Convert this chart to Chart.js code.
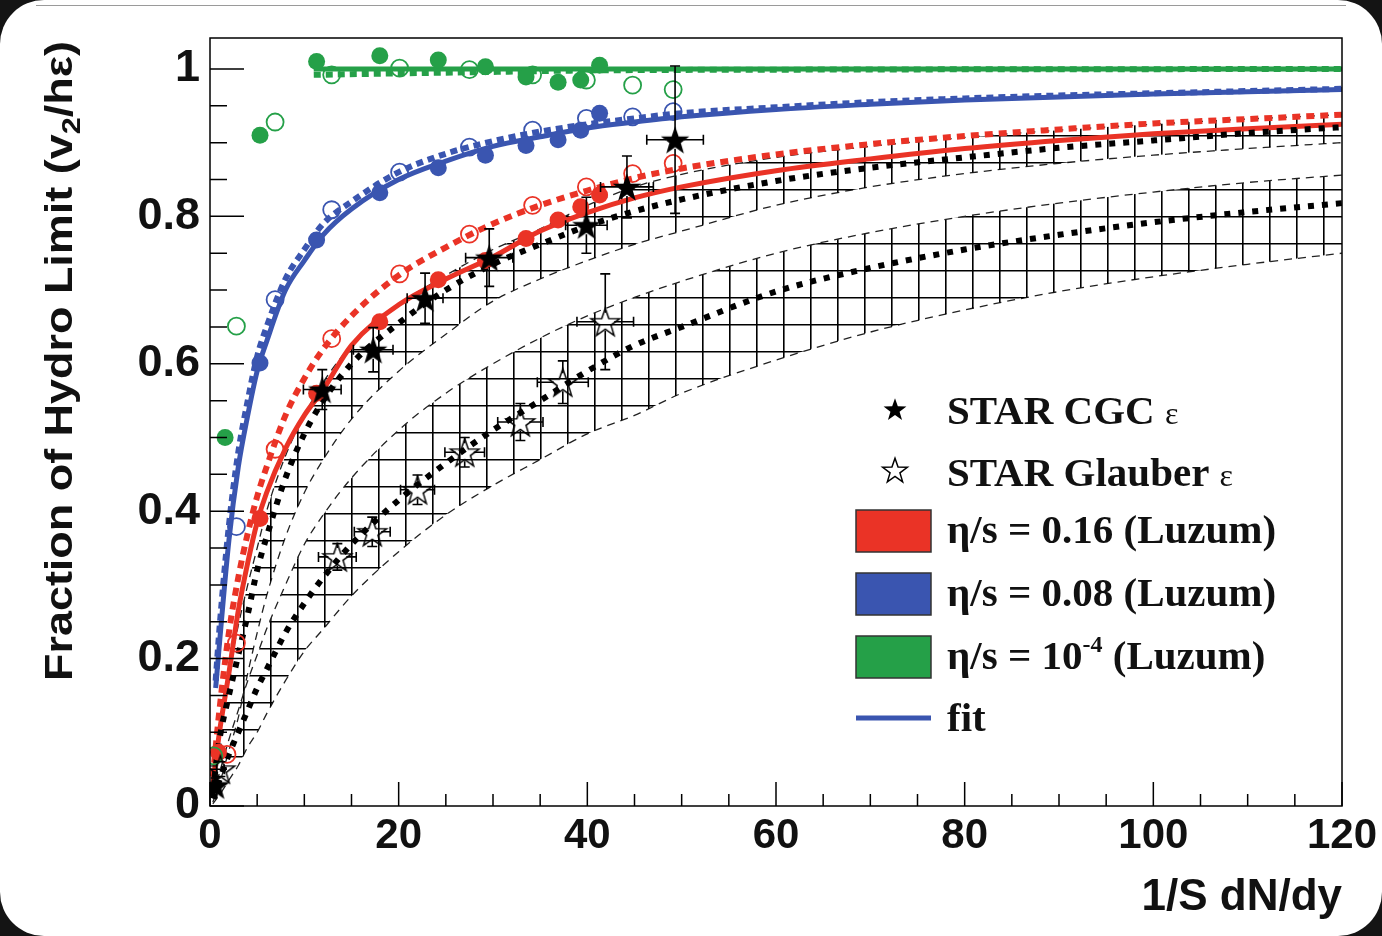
<!DOCTYPE html>
<html>
<head>
<meta charset="utf-8">
<script src="https://cdn.jsdelivr.net/npm/chart.js@4/dist/chart.umd.min.js"></script>
<style>
  html, body { margin: 0; padding: 0; background: #141414; }
  #card { position: absolute; left: 0; top: 0; width: 1382px; height: 936px; background: #fff; border-radius: 44px; overflow: hidden; }
  #rule { position: absolute; left: 36px; top: 5px; width: 1310px; height: 1px; background: #9a9a9a; }
  canvas { position: absolute; left: 0; top: 0; }
</style>
</head>
<body>
<div id="card"><div id="rule"></div><canvas id="chart" width="1382" height="936"></canvas></div>
<script>
// ---- data ----
const GREEN = '#25a048';
const BLUE = '#3a55b0';
const RED = '#ea3326';

// Luzum points (filled / open circles)
const GREEN_FILLED_X = [1.6, 5.3, 11.3, 18.0, 24.2, 29.2, 33.5, 36.9, 39.3, 41.3];
const GREEN_FILLED_Y = [0.50, 0.91, 1.01, 1.018, 1.012, 1.003, 0.989, 0.982, 0.985, 1.005];
const GREEN_OPEN_X = [0.4, 2.8, 6.9, 12.9, 20.1, 27.5, 34.2, 39.9, 44.8, 49.1];
const GREEN_OPEN_Y = [0.068, 0.651, 0.928, 0.992, 1.001, 0.999, 0.992, 0.985, 0.978, 0.972];

const BLUE_FILLED_X = [5.3, 11.3, 18.0, 24.2, 29.2, 33.5, 36.9, 39.3, 41.3];
const BLUE_FILLED_Y = [0.601, 0.768, 0.832, 0.866, 0.883, 0.896, 0.904, 0.917, 0.94];
const BLUE_OPEN_X = [2.8, 6.9, 12.9, 20.1, 27.5, 34.2, 39.9, 44.8, 49.1];
const BLUE_OPEN_Y = [0.379, 0.687, 0.809, 0.86, 0.894, 0.917, 0.933, 0.935, 0.942];

const RED_FILLED_X = [0.9, 5.3, 11.3, 18.0, 24.2, 29.2, 33.5, 36.9, 39.3, 41.3];
const RED_FILLED_Y = [0.073, 0.39, 0.56, 0.657, 0.714, 0.74, 0.77, 0.795, 0.813, 0.829];
const RED_OPEN_X = [1.8, 2.8, 6.9, 12.9, 20.1, 27.5, 34.2, 39.9, 44.8, 49.1];
const RED_OPEN_Y = [0.07, 0.221, 0.484, 0.634, 0.722, 0.776, 0.815, 0.84, 0.858, 0.872];

// STAR data with errors
const CGC_X = [0.6, 11.9, 17.3, 22.8, 29.6, 39.9, 44.2, 49.3];
const CGC_Y = [0.028, 0.565, 0.619, 0.689, 0.744, 0.788, 0.84, 0.904];
const CGC_XERR = [0.3, 2.0, 2.1, 1.9, 2.5, 2.2, 2.8, 3.0];
const CGC_YERR = [0.01, 0.027, 0.03, 0.034, 0.039, 0.038, 0.042, 0.1];
const GLB_X = [1.1, 13.5, 17.2, 22.0, 27.0, 32.9, 37.4, 41.9];
const GLB_Y = [0.05, 0.338, 0.372, 0.429, 0.48, 0.521, 0.575, 0.657];
const GLB_XERR = [0.4, 2.0, 1.9, 1.8, 2.1, 2.4, 2.7, 3.0];
const GLB_YERR = [0.01, 0.018, 0.02, 0.02, 0.02, 0.025, 0.029, 0.065];

// curves
const FIT_X = [0.3, 1, 2, 3, 4, 5, 6, 8, 10, 12, 15, 20, 25, 30, 35, 40, 45, 50, 60, 70, 80, 90, 100, 110, 120];
const BLUE_X = [0.6, 1, 2, 3, 4, 5, 6, 8, 10, 12, 15, 20, 25, 30, 35, 40, 45, 50, 60, 70, 80, 90, 100, 110, 120];
const BLUE_SOLID = [0.16, 0.22, 0.36, 0.46, 0.53, 0.59, 0.63, 0.70, 0.74, 0.775, 0.81, 0.85, 0.875, 0.895, 0.908, 0.92, 0.928, 0.935, 0.945, 0.952, 0.958, 0.962, 0.966, 0.969, 0.972];
const BLUE_DOTTED = [0.17, 0.24, 0.38, 0.48, 0.55, 0.61, 0.65, 0.715, 0.755, 0.79, 0.82, 0.86, 0.885, 0.902, 0.915, 0.925, 0.933, 0.94, 0.948, 0.955, 0.96, 0.964, 0.967, 0.97, 0.973];
const RED_SOLID = [0.03, 0.1, 0.18, 0.265, 0.33, 0.385, 0.425, 0.485, 0.53, 0.565, 0.625, 0.68, 0.715, 0.745, 0.78, 0.805, 0.825, 0.84, 0.862, 0.878, 0.892, 0.903, 0.912, 0.919, 0.925];
const RED_DOTTED = [0.04, 0.13, 0.235, 0.31, 0.37, 0.42, 0.46, 0.53, 0.58, 0.62, 0.665, 0.72, 0.758, 0.79, 0.815, 0.835, 0.852, 0.865, 0.884, 0.898, 0.909, 0.918, 0.926, 0.932, 0.938];
const GREEN_X = [11, 20, 30, 40, 60, 120];
const GREEN_SOLID = [1.0, 1.0, 1.0, 1.0, 1.0, 1.0];
const GREEN_DOTTED = [0.992, 0.994, 0.996, 0.998, 0.999, 1.0];

const CGC_FIT = [0.02, 0.09, 0.15, 0.205, 0.26, 0.32, 0.365, 0.445, 0.505, 0.55, 0.60, 0.655, 0.70, 0.735, 0.762, 0.787, 0.807, 0.823, 0.848, 0.866, 0.88, 0.893, 0.903, 0.913, 0.921];
const CGC_HIGH = [0.03, 0.1, 0.18, 0.245, 0.3, 0.35, 0.4, 0.475, 0.53, 0.575, 0.625, 0.68, 0.72, 0.755, 0.783, 0.815, 0.84, 0.857, 0.88, 0.895, 0.907, 0.917, 0.925, 0.932, 0.938];
const CGC_LOW = [0.005, 0.03, 0.075, 0.12, 0.18, 0.235, 0.285, 0.365, 0.425, 0.47, 0.525, 0.59, 0.64, 0.685, 0.715, 0.74, 0.762, 0.78, 0.815, 0.84, 0.858, 0.872, 0.883, 0.892, 0.90];
const GLB_FIT = [0.01, 0.035, 0.07, 0.1, 0.13, 0.16, 0.185, 0.235, 0.275, 0.31, 0.355, 0.415, 0.465, 0.51, 0.55, 0.59, 0.625, 0.65, 0.698, 0.73, 0.755, 0.775, 0.792, 0.806, 0.818];
const GLB_HIGH = [0.015, 0.045, 0.09, 0.13, 0.17, 0.205, 0.24, 0.30, 0.355, 0.395, 0.445, 0.51, 0.56, 0.6, 0.635, 0.665, 0.69, 0.712, 0.75, 0.778, 0.80, 0.818, 0.833, 0.846, 0.856];
const GLB_LOW = [0.003, 0.015, 0.035, 0.055, 0.08, 0.1, 0.125, 0.17, 0.21, 0.24, 0.285, 0.345, 0.395, 0.435, 0.47, 0.505, 0.53, 0.56, 0.605, 0.643, 0.673, 0.698, 0.718, 0.735, 0.75];

const X_TICKS_MAJOR = 20, X_TICKS_MINOR = 5;
const Y_TICKS_MAJOR = 0.2, Y_TICKS_MINOR = 0.05;

// ---- helpers ----
const pts = (xs, ys) => xs.map((x, i) => ({ x: x, y: ys[i] }));

function curve(xs, ys, color, width, dash, extra) {
  return Object.assign({
    data: pts(xs, ys), showLine: true, borderColor: color, borderWidth: width,
    borderDash: dash || [], pointRadius: 0, fill: false,
    cubicInterpolationMode: 'monotone', borderCapStyle: 'butt'
  }, extra || {});
}

function dots(xs, ys, color, filled) {
  return {
    data: pts(xs, ys), showLine: false, pointStyle: 'circle',
    pointRadius: 8.5,
    pointBackgroundColor: filled ? color : 'rgba(0,0,0,0)',
    pointBorderColor: color, pointBorderWidth: filled ? 0 : 1.8
  };
}

function starPath(g, cx, cy, R) {
  const r = R * 0.4;
  g.beginPath();
  for (let i = 0; i < 10; i++) {
    const a = -Math.PI / 2 + i * Math.PI / 5;
    const rr = i % 2 ? r : R;
    g.lineTo(cx + rr * Math.cos(a), cy + rr * Math.sin(a));
  }
  g.closePath();
}

function drawStar(g, cx, cy, R, filled) {
  starPath(g, cx, cy + R * 0.1, R);
  if (filled) { g.fillStyle = '#000'; g.fill(); }
  else { g.strokeStyle = '#000'; g.lineWidth = 1.5; g.stroke(); }
}

function starCanvas(R, filled) {
  const c = document.createElement('canvas');
  c.width = c.height = Math.ceil(2 * R + 6);
  drawStar(c.getContext('2d'), c.width / 2, c.height / 2, R, filled);
  return c;
}

function hatch(ctx) {
  const p = document.createElement('canvas');
  p.width = 27; p.height = 27;
  const g = p.getContext('2d');
  g.strokeStyle = '#000'; g.lineWidth = 1.6;
  g.beginPath();
  g.moveTo(0.8, 0); g.lineTo(0.8, 27);
  g.moveTo(0, 0.8); g.lineTo(27, 0.8);
  g.stroke();
  return ctx.createPattern(p, 'repeat');
}

const canvas = document.getElementById('chart');
const ctx = canvas.getContext('2d');
const HATCH = hatch(ctx);

// ---- plugins: error bars, frame with inner ticks, y title, legend ----
const errorBars = {
  id: 'errorBars',
  afterDatasetsDraw(chart) {
    const { ctx, scales: { x, y } } = chart;
    ctx.save();
    ctx.strokeStyle = '#000'; ctx.lineWidth = 1.6;
    [[CGC_X, CGC_Y, CGC_XERR, CGC_YERR], [GLB_X, GLB_Y, GLB_XERR, GLB_YERR]].forEach(([xs, ys, ex, ey]) => {
      xs.forEach((xv, i) => {
        const px = x.getPixelForValue(xv), py = y.getPixelForValue(ys[i]);
        const x0 = x.getPixelForValue(xv - ex[i]), x1 = x.getPixelForValue(xv + ex[i]);
        const y0 = y.getPixelForValue(ys[i] - ey[i]), y1 = y.getPixelForValue(ys[i] + ey[i]);
        const gap = 9;
        ctx.beginPath();
        if (px - x0 > gap) { ctx.moveTo(x0, py); ctx.lineTo(px - gap, py); ctx.moveTo(px + gap, py); ctx.lineTo(x1, py); }
        if (y0 - py > gap) { ctx.moveTo(px, y0); ctx.lineTo(px, py + gap); ctx.moveTo(px, py - gap); ctx.lineTo(px, y1); }
        ctx.moveTo(x0, py - 5); ctx.lineTo(x0, py + 5);
        ctx.moveTo(x1, py - 5); ctx.lineTo(x1, py + 5);
        ctx.moveTo(px - 5, y0); ctx.lineTo(px + 5, y0);
        ctx.moveTo(px - 5, y1); ctx.lineTo(px + 5, y1);
        ctx.stroke();
      });
    });
    ctx.restore();
  }
};

const frameTicks = {
  id: 'frameTicks',
  afterDraw(chart) {
    const { ctx, chartArea: a, scales: { x, y } } = chart;
    ctx.save();
    ctx.strokeStyle = '#000'; ctx.lineWidth = 1.5;
    ctx.strokeRect(a.left, a.top, a.right - a.left, a.bottom - a.top);
    ctx.beginPath();
    for (let v = 0; v <= x.max + 1e-9; v += X_TICKS_MINOR) {
      const px = x.getPixelForValue(v);
      const len = Math.abs(v / X_TICKS_MAJOR - Math.round(v / X_TICKS_MAJOR)) < 1e-6 ? 24 : 12;
      ctx.moveTo(px, a.bottom); ctx.lineTo(px, a.bottom - len);
    }
    for (let k = 0; k * Y_TICKS_MINOR <= y.max + 1e-9; k++) {
      const v = k * Y_TICKS_MINOR;
      const py = y.getPixelForValue(v);
      const len = k % Math.round(Y_TICKS_MAJOR / Y_TICKS_MINOR) === 0 ? 34 : 17;
      ctx.moveTo(a.left, py); ctx.lineTo(a.left + len, py);
    }
    ctx.stroke();
    ctx.restore();
  }
};

function runs(ctx, x, y, parts) {
  parts.forEach(p => {
    ctx.font = p.f;
    ctx.fillText(p.t, x, y + (p.dy || 0));
    x += ctx.measureText(p.t).width;
  });
}

const decorations = {
  id: 'decorations',
  afterDraw(chart) {
    const ctx = chart.ctx;
    // y axis title with subscript, stretched to the figure's length
    ctx.save();
    ctx.fillStyle = '#111';
    ctx.translate(62, 361);
    ctx.rotate(-Math.PI / 2);
    const big = 'bold 38px "Liberation Sans", Arial, sans-serif';
    const sub = 'bold 26px "Liberation Sans", Arial, sans-serif';
    const parts = [{ t: 'Fraction of Hydro Limit (v', f: big }, { t: '2', f: sub, dy: 11 }, { t: '/h\u03b5)', f: big }];
    let w = 0;
    parts.forEach(p => { ctx.font = p.f; w += ctx.measureText(p.t).width; });
    ctx.scale(640 / w, 1);
    ctx.textBaseline = 'middle';
    runs(ctx, -w / 2, 0, parts);
    ctx.restore();

    // legend
    ctx.save();
    const serifB = 'bold 41px "Liberation Serif", "Times New Roman", serif';
    const serifS = '32px "Liberation Serif", "Times New Roman", serif';
    const supF = 'bold 24px "Liberation Serif", "Times New Roman", serif';
    ctx.textBaseline = 'alphabetic';
    drawStar(ctx, 895, 409, 12, true);
    drawStar(ctx, 895, 470, 13, false);
    ctx.fillStyle = '#111';
    runs(ctx, 947, 424, [{ t: 'STAR CGC ', f: serifB }, { t: '\u03b5', f: serifS }]);
    runs(ctx, 947, 486, [{ t: 'STAR Glauber ', f: serifB }, { t: '\u03b5', f: serifS }]);
    const boxes = [[RED, 510], [BLUE, 573], [GREEN, 636]];
    boxes.forEach(([c, top]) => {
      ctx.fillStyle = c; ctx.fillRect(856, top, 75, 42);
      ctx.strokeStyle = '#333'; ctx.lineWidth = 1.5; ctx.strokeRect(856, top, 75, 42);
    });
    ctx.fillStyle = '#111';
    runs(ctx, 947, 543, [{ t: '\u03b7/s = 0.16 (Luzum)', f: serifB }]);
    runs(ctx, 947, 606, [{ t: '\u03b7/s = 0.08 (Luzum)', f: serifB }]);
    runs(ctx, 947, 669, [{ t: '\u03b7/s = 10', f: serifB }, { t: '-4', f: supF, dy: -17 }, { t: ' (Luzum)', f: serifB }]);
    ctx.strokeStyle = BLUE; ctx.lineWidth = 5;
    ctx.beginPath(); ctx.moveTo(856, 718); ctx.lineTo(931, 718); ctx.stroke();
    runs(ctx, 947, 731, [{ t: 'fit', f: serifB }]);
    ctx.restore();
  }
};

// ---- datasets (index 0 is drawn on top) ----
const datasets = [
  { data: pts(CGC_X, CGC_Y), showLine: false, pointStyle: starCanvas(15, true), pointRadius: 10 },
  { data: pts(GLB_X, GLB_Y), showLine: false, pointStyle: starCanvas(15, false), pointRadius: 10 },
  dots(GREEN_FILLED_X, GREEN_FILLED_Y, GREEN, true),
  dots(GREEN_OPEN_X, GREEN_OPEN_Y, GREEN, false),
  dots(BLUE_FILLED_X, BLUE_FILLED_Y, BLUE, true),
  dots(BLUE_OPEN_X, BLUE_OPEN_Y, BLUE, false),
  dots(RED_FILLED_X, RED_FILLED_Y, RED, true),
  dots(RED_OPEN_X, RED_OPEN_Y, RED, false),
  curve(FIT_X, CGC_FIT, '#000', 6, [6, 8]),
  curve(FIT_X, GLB_FIT, '#000', 6, [6, 8]),
  curve(GREEN_X, GREEN_DOTTED, GREEN, 6, [7, 5]),
  curve(GREEN_X, GREEN_SOLID, GREEN, 5),
  curve(BLUE_X, BLUE_DOTTED, BLUE, 6, [7, 5]),
  curve(BLUE_X, BLUE_SOLID, BLUE, 5),
  curve(FIT_X, RED_DOTTED, RED, 6, [8, 6]),
  curve(FIT_X, RED_SOLID, RED, 5),
  curve(FIT_X, CGC_HIGH, '#222', 1.3, [8, 6], { fill: 17, backgroundColor: HATCH }),
  curve(FIT_X, CGC_LOW, '#222', 1.3, [8, 6]),
  curve(FIT_X, GLB_HIGH, '#222', 1.3, [8, 6], { fill: 19, backgroundColor: HATCH }),
  curve(FIT_X, GLB_LOW, '#222', 1.3, [8, 6])
];

const tickFont = { family: '"Liberation Sans", Arial, sans-serif', weight: 'bold', size: 42 };

new Chart(canvas, {
  type: 'scatter',
  data: { datasets: datasets },
  options: {
    responsive: false,
    animation: false,
    layout: { padding: { left: 0, right: 40, top: 38, bottom: 0 } },
    plugins: { legend: { display: false }, tooltip: { enabled: false } },
    scales: {
      x: {
        type: 'linear', min: 0, max: 120,
        grid: { display: false }, border: { display: false },
        ticks: { stepSize: X_TICKS_MAJOR, color: '#111', font: tickFont, padding: -3, maxRotation: 0,
                 callback: v => String(v) },
        title: { display: true, text: '1/S dN/dy', align: 'end', color: '#111',
                 font: { family: '"Liberation Sans", Arial, sans-serif', weight: 'bold', size: 44 },
                 padding: { top: 0, bottom: 12 } },
        afterFit: s => { s.height = 130; }
      },
      y: {
        type: 'linear', min: 0, max: 1.042,
        grid: { display: false }, border: { display: false },
        ticks: { stepSize: Y_TICKS_MAJOR, includeBounds: false, color: '#111',
                 font: Object.assign({}, tickFont, { size: 45 }), padding: 2,
                 callback: v => String(Math.round(v * 10) / 10) },
        afterFit: s => { s.width = 210; }
      }
    }
  },
  plugins: [errorBars, frameTicks, decorations]
});
</script>
</body>
</html>
